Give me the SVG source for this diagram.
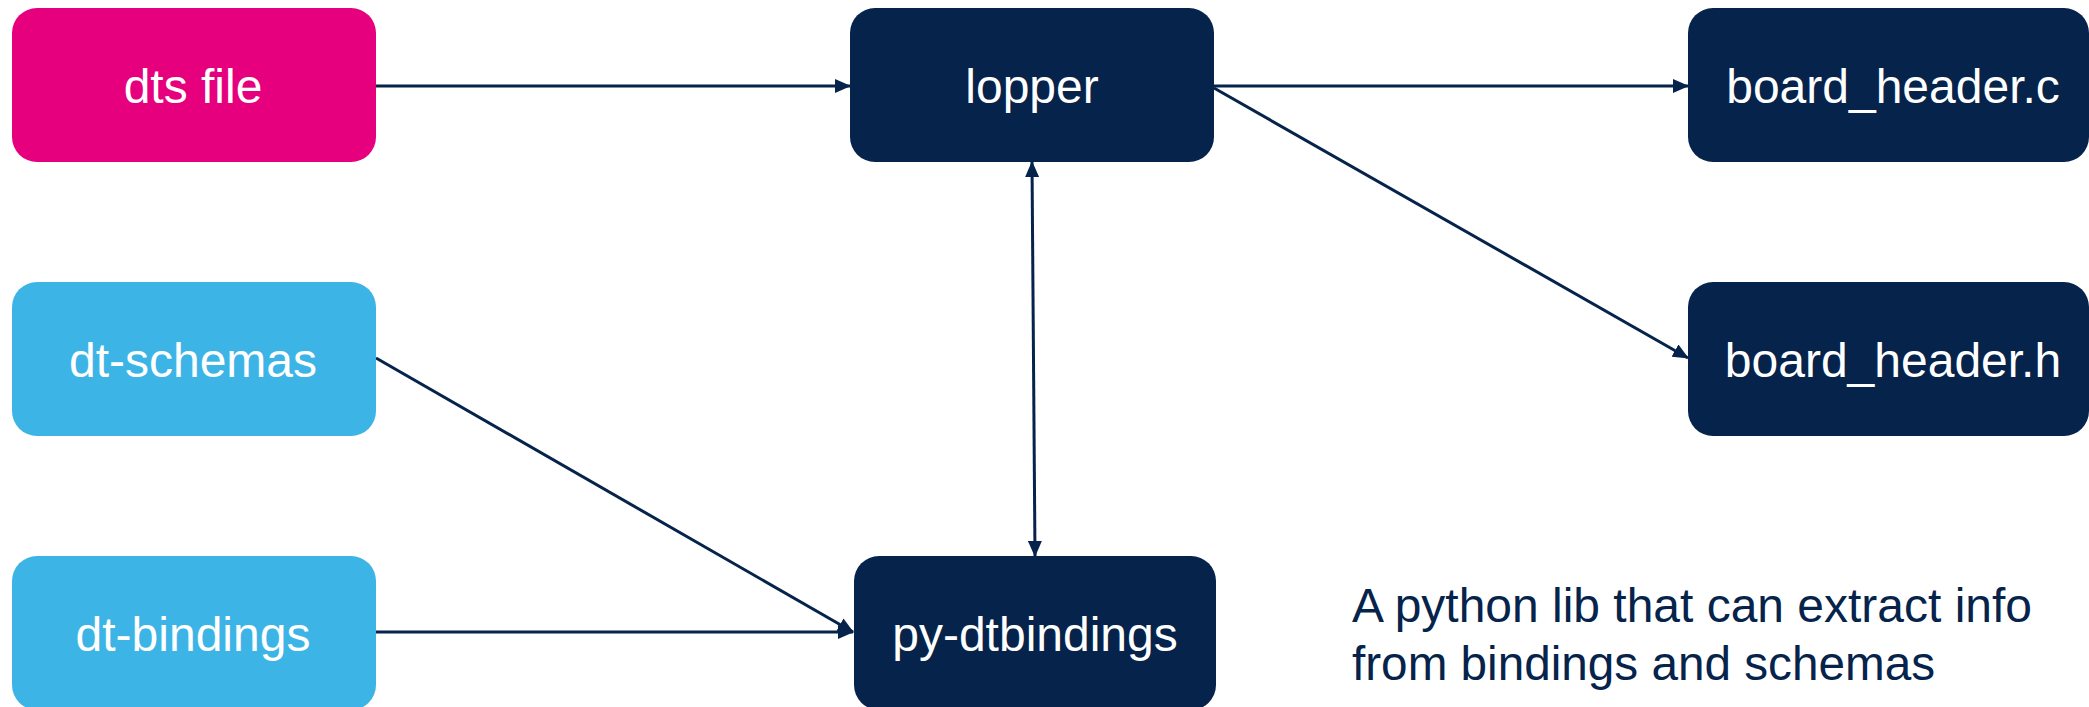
<svg xmlns="http://www.w3.org/2000/svg" width="2089" height="707" viewBox="0 0 2089 707">
<defs>
<style>
.box{stroke:none}
.pink{fill:#e6007e}
.blue{fill:#3db4e6}
.navy{fill:#05234b}
.lbl{font-family:"Liberation Sans",Arial,sans-serif;font-size:48px;fill:#ffffff;text-anchor:middle}
.note{font-family:"Liberation Sans",Arial,sans-serif;font-size:48px;fill:#05234b}
.conn{stroke:#05234b;stroke-width:3;fill:none}
</style>
<marker id="arr" markerUnits="userSpaceOnUse" markerWidth="16" markerHeight="14" refX="15" refY="7" orient="auto-start-reverse" viewBox="0 0 16 14">
<path d="M0,0 L16,7 L0,14 Z" fill="#05234b"/>
</marker>
</defs>
<rect width="2089" height="707" fill="#ffffff"/>
<g id="connectors">
<line class="conn" x1="376" y1="86" x2="850" y2="86" marker-end="url(#arr)"/>
<line class="conn" x1="1214" y1="86" x2="1688" y2="86" marker-end="url(#arr)"/>
<line class="conn" x1="1214" y1="88" x2="1688" y2="358" marker-end="url(#arr)"/>
<line class="conn" x1="1032" y1="162" x2="1035" y2="556" marker-start="url(#arr)" marker-end="url(#arr)"/>
<line class="conn" x1="376" y1="358" x2="853" y2="632" marker-end="url(#arr)"/>
<line class="conn" x1="376" y1="632" x2="853" y2="632" marker-end="url(#arr)"/>
</g>
<g id="dts-file">
<rect class="box pink" x="12" y="8" width="364" height="154" rx="25"/>
<text class="lbl" x="193" y="103">dts file</text>
</g>
<g id="dt-schemas">
<rect class="box blue" x="12" y="282" width="364" height="154" rx="25"/>
<text class="lbl" x="193" y="377">dt-schemas</text>
</g>
<g id="dt-bindings">
<rect class="box blue" x="12" y="556" width="364" height="154" rx="25"/>
<text class="lbl" x="193" y="651">dt-bindings</text>
</g>
<g id="lopper">
<rect class="box navy" x="850" y="8" width="364" height="154" rx="25"/>
<text class="lbl" x="1032" y="103">lopper</text>
</g>
<g id="py-dtbindings">
<rect class="box navy" x="854" y="556" width="362" height="154" rx="25"/>
<text class="lbl" x="1035" y="651">py-dtbindings</text>
</g>
<g id="board-header-c">
<rect class="box navy" x="1688" y="8" width="401" height="154" rx="25"/>
<text class="lbl" x="1893" y="103">board_header.c</text>
</g>
<g id="board-header-h">
<rect class="box navy" x="1688" y="282" width="401" height="154" rx="25"/>
<text class="lbl" x="1893" y="377">board_header.h</text>
</g>
<g id="note">
<text class="note" x="1352" y="622" textLength="680" lengthAdjust="spacingAndGlyphs">A python lib that can extract info</text>
<text class="note" x="1352" y="680" textLength="583" lengthAdjust="spacingAndGlyphs">from bindings and schemas</text>
</g>
</svg>
